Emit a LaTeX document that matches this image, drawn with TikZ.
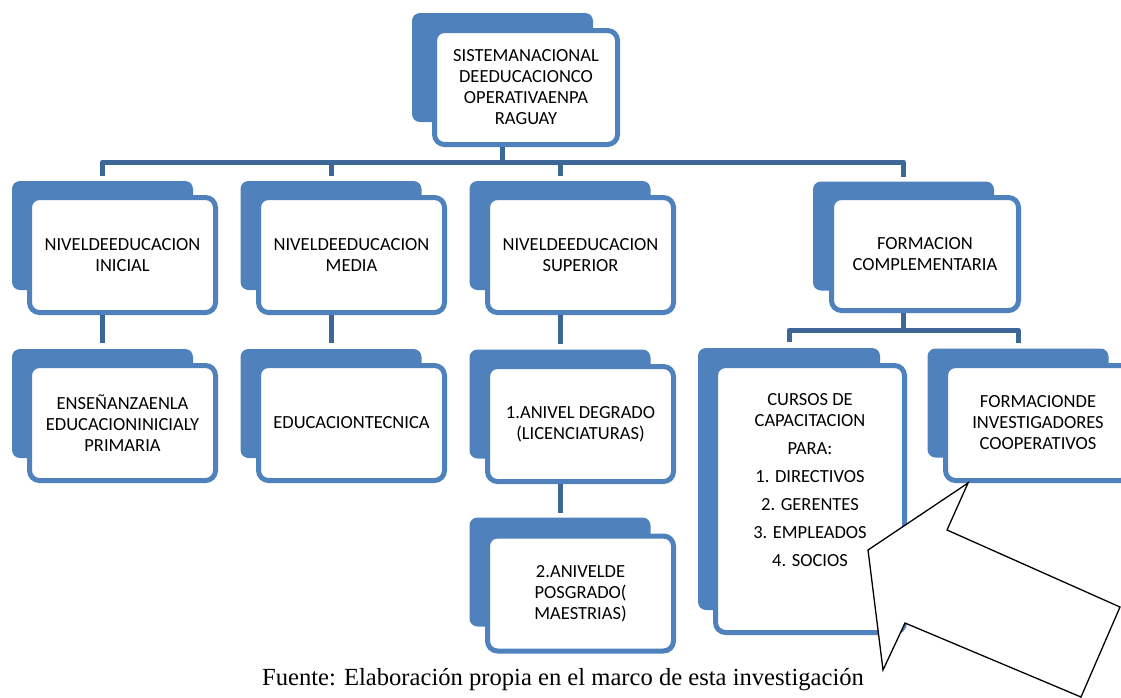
\documentclass[tikz,border=0pt]{standalone}
\usepackage{fontspec}
\setmainfont{Liberation Serif}
\newfontfamily\boxfont{Carlito}
\definecolor{boxblue}{RGB}{79,129,189}
\definecolor{linkblue}{RGB}{62,103,153}

\begin{document}
\begin{tikzpicture}[x=1pt, y=-1pt,
    backbox/.style={fill=boxblue, rounded corners=8pt, minimum width=181pt, minimum height=109pt, inner sep=0pt, outer sep=0pt},
    frontbox/.style={draw=boxblue, line width=5pt, fill=white, rounded corners=10pt, minimum width=186pt, minimum height=115pt, inner sep=2pt, align=center, font=\boxfont\fontsize{18.5}{21}\selectfont, text=black},
    boxtext/.style={align=center, font=\boxfont\fontsize{18.5}{21}\selectfont, text=black},
    link/.style={draw=linkblue, line width=5pt, line join=round},
    callout/.style={draw=black, fill=white, line width=1.3pt}]
    \useasboundingbox (0,0) rectangle (1121,697);
    % top
    \node[backbox] (b0) at (502.5,67.5) {};
    \node[frontbox, minimum width=183pt, minimum height=114pt] (sistema) at (526,87.5) {SISTEMANACIONAL\\DEEDUCACIONCO\\OPERATIVAENPA\\RAGUAY};
    % niveles
    \node[backbox] (b1) at (102.5,235.5) {};
    \node[frontbox] (inicial) at (122.5,255) {NIVELDEEDUCACION\\INICIAL};
    \node[backbox] (b2) at (331,235.5) {};
    \node[frontbox] (media) at (351.5,255) {NIVELDEEDUCACION\\MEDIA};
    \node[backbox] (b3) at (560,235.5) {};
    \node[frontbox] (superior) at (580.5,255) {NIVELDEEDUCACION\\SUPERIOR};
    \node[backbox] (b4) at (903.5,236) {};
    \node[frontbox, minimum width=187pt, minimum height=113pt] (complem) at (925,254) {FORMACION\\COMPLEMENTARIA};
    % tercer nivel
    \node[backbox] (b5) at (102.5,403.5) {};
    \node[frontbox] (ensenanza) at (122.5,423) {ENSEÑANZAENLA\\EDUCACIONINICIALY\\PRIMARIA};
    \node[backbox] (b6) at (331,403.5) {};
    \node[frontbox] (tecnica) at (351.5,423) {EDUCACIONTECNICA};
    \node[backbox] (b7) at (560,404) {};
    \node[frontbox] (grado) at (580.5,424) {1.ANIVEL DEGRADO\\(LICENCIATURAS)};
    \node[backbox] (b8) at (560,572) {};
    \node[frontbox] (posgrado) at (580.5,593.5) {2.ANIVELDE\\POSGRADO(\\MAESTRIAS)};
    \node[backbox, minimum width=182pt, minimum height=262pt] (b9) at (789,479) {};
    \node[frontbox, minimum width=189pt, minimum height=267pt] (cursos) at (810,499) {};
    \node[boxtext] (cursoslist) at (810,480.5) {CURSOS DE\\CAPACITACION\\[7pt]PARA:\\[7pt]1. DIRECTIVOS\hspace*{19pt}\\[7pt]2. GERENTES\hspace*{30pt}\\[7pt]3. EMPLEADOS\\[7pt]4. SOCIOS};
    \node[backbox] (b10) at (1018,403) {};
    \node[frontbox, minimum width=185pt] (investig) at (1038,423) {FORMACIONDE\\INVESTIGADORES\\COOPERATIVOS};
    % conectores
    \coordinate (bus) at (0,162);
    \coordinate (bus2) at (0,330);
    \draw[link] (sistema.south -| b0) -- (b0 |- bus);
    \draw[link, shorten <=5pt, shorten >=5pt] (b1.north) -- (b1 |- bus) -- (b4 |- bus) -- (b4.north);
    \draw[link, shorten >=5pt] (b2 |- bus) -- (b2.north);
    \draw[link, shorten >=5pt] (b3 |- bus) -- (b3.north);
    \draw[link, shorten >=6pt] (inicial.south -| b1) -- (b5.north);
    \draw[link, shorten >=6pt] (media.south -| b2) -- (b6.north);
    \draw[link, shorten >=6pt] (superior.south -| b3) -- (b7.north);
    \draw[link, shorten >=5pt] (grado.south -| b7) -- (b8.north);
    \draw[link] (complem.south -| b4) -- (b4 |- bus2);
    \draw[link, shorten <=6pt, shorten >=6pt] (b9.north) -- (b9 |- bus2) -- (b10 |- bus2) -- (b10.north);
    % flecha
    \draw[callout] (968,483) -- (947,530) -- (1120,607) -- (1081,697) -- (905,623) -- (883,670) -- (868,550) -- cycle;
    \node[anchor=base, font=\fontsize{24.6}{28}\selectfont] (fuente) at (563,685) {Fuente: Elaboración propia en el marco de esta investigación};
\end{tikzpicture}
\end{document}
